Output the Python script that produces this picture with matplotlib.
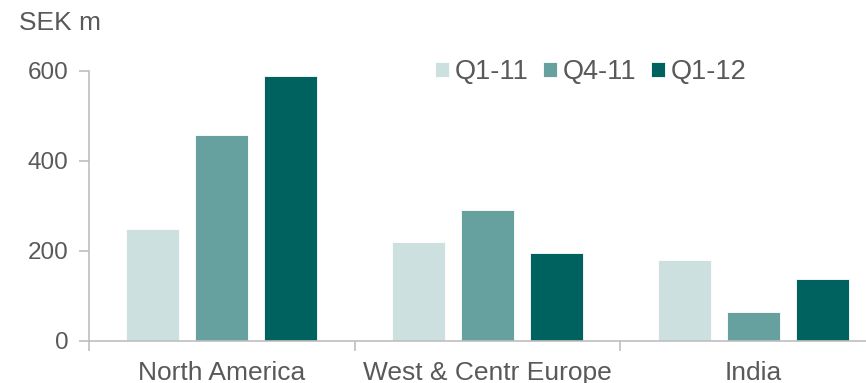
import matplotlib
matplotlib.use("Agg")
import matplotlib.pyplot as plt
import numpy as np

plt.rcParams['font.family'] = ['Liberation Sans', 'DejaVu Sans']

regions = ["North America", "West & Centr Europe", "India"]
series_names = ["Q1-11", "Q4-11", "Q1-12"]
q1_11 = [247, 219, 179]
q4_11 = [456, 289, 63]
q1_12 = [587, 194, 137]
yticks = [0, 200, 400, 600]

colors = ["#CDE0E0", "#66A19F", "#00625E"]
text_color = "#595959"
axis_color = "#BFBFBF"

W, H = 866, 383
fig = plt.figure(figsize=(W / 100, H / 100), dpi=100)
# the plot runs off the right edge, like the reference crop
ax = fig.add_axes([89 / W, 42.5 / H, (886 - 89) / W, 270 / H])

x = np.arange(len(regions))
offsets = [-0.26, 0.0, 0.26]
for vals, off, col, name in zip([q1_11, q4_11, q1_12], offsets, colors, series_names):
    ax.bar(x + off, vals, width=0.2, color=col, edgecolor="#ffffff", linewidth=0.6,
           label=name)

ax.set_xlim(-0.5, len(regions) - 0.5)
ax.set_ylim(0, 600)
ax.set_yticks(yticks)
ax.set_yticklabels([str(v) for v in yticks])

# category borders as major ticks, names on minor ticks
ax.set_xticks(np.arange(len(regions) + 1) - 0.5)
ax.set_xticklabels([])
ax.set_xticks(x, minor=True)
ax.set_xticklabels(regions, minor=True)

for s in ["top", "right"]:
    ax.spines[s].set_visible(False)
for s in ["left", "bottom"]:
    ax.spines[s].set_color(axis_color)
    ax.spines[s].set_linewidth(1.2)

ax.tick_params(axis="y", direction="out", length=7, width=1.2, color=axis_color,
               labelcolor=text_color, labelsize=17.5, pad=8)
ax.tick_params(axis="x", which="major", direction="out", length=7, width=1.2,
               color=axis_color)
ax.tick_params(axis="x", which="minor", length=0, labelcolor=text_color,
               labelsize=19, pad=15)

fig.text(19 / W, 1 - 23 / H, "SEK m", fontsize=19, color=text_color,
         ha="left", va="center")

leg = fig.legend(loc="center left", bbox_to_anchor=(424 / W, 1 - 72 / H), ncol=3,
                 frameon=False, fontsize=19.5, handlelength=0.52, handleheight=0.52,
                 handletextpad=0.2, columnspacing=0.55, borderaxespad=0)
for t in leg.get_texts():
    t.set_color(text_color)

fig.savefig("out.png", dpi=100)
